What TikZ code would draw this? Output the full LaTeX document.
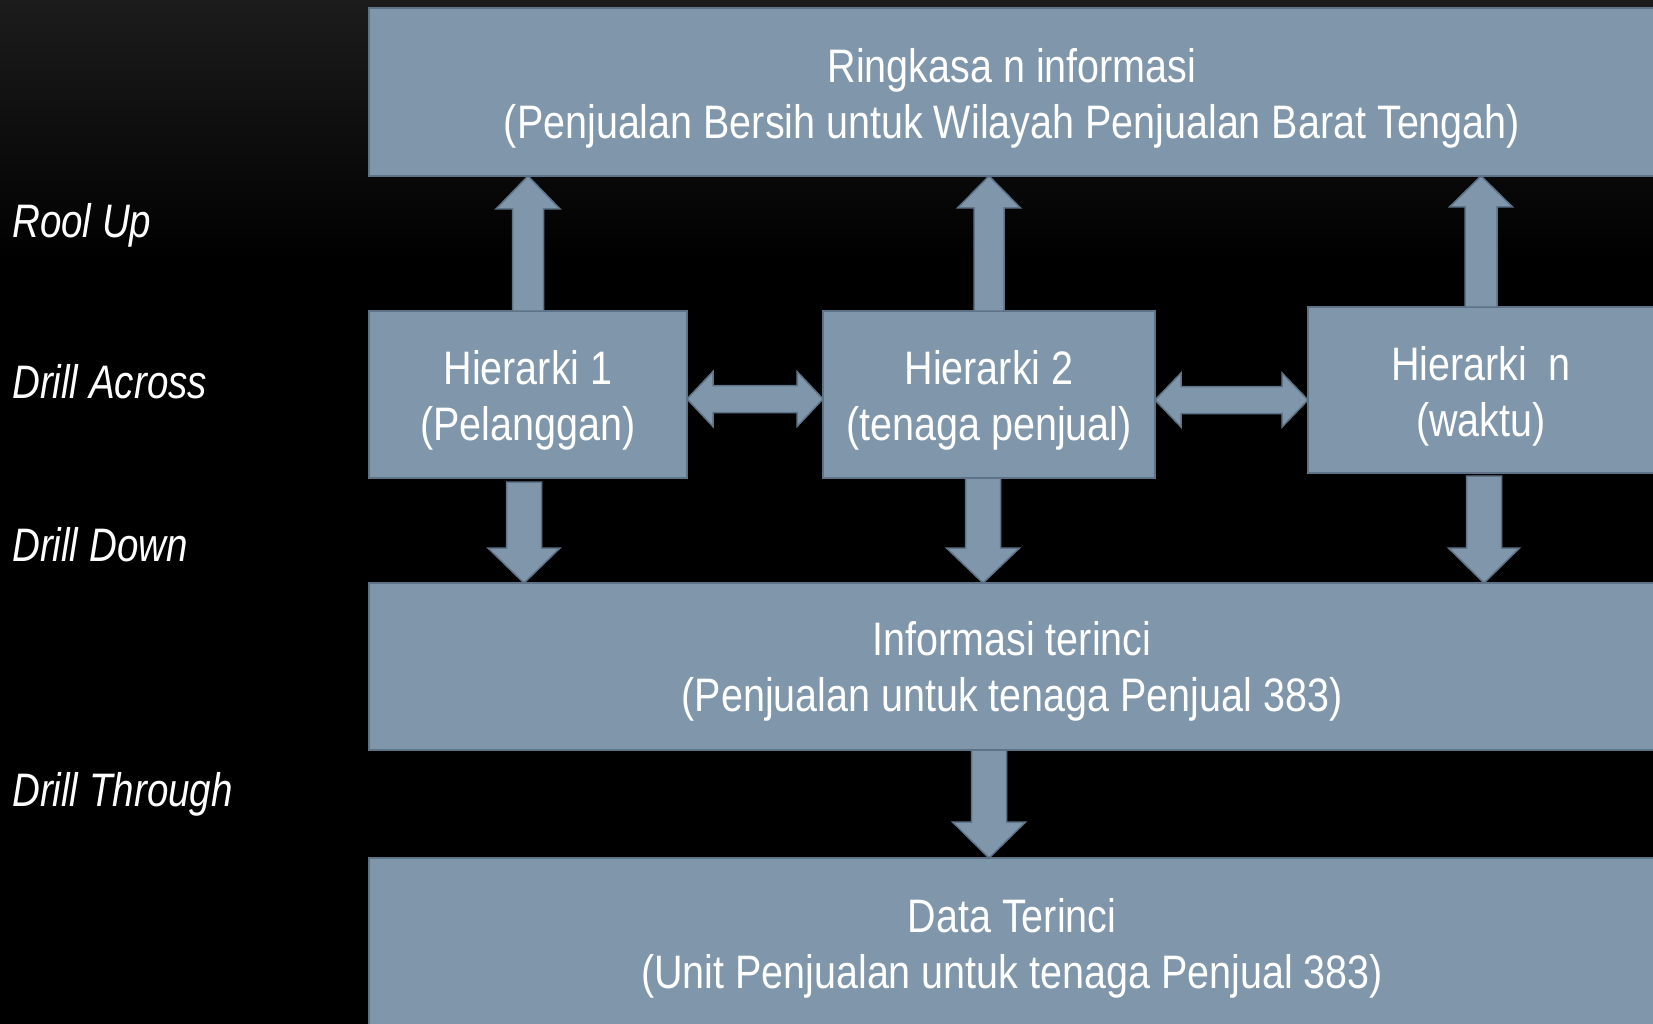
\documentclass[tikz,border=0pt]{standalone}
\usepackage{fontspec}
\setmainfont{Liberation Sans}[FakeStretch=0.84]
\newfontfamily\oplabelfont{Liberation Sans}[FakeStretch=0.82]
\usetikzlibrary{calc}

\definecolor{boxfill}{HTML}{7F96AB}
\definecolor{boxline}{HTML}{5E7388}
\definecolor{bgtop}{HTML}{1C1C1C}

\tikzset{
  panel/.style={draw=boxline, fill=boxfill, line width=1.5pt, inner sep=0pt, outer sep=0pt},
  paneltext/.style={text=white, align=center, inner sep=0pt, font=\fontsize{47}{56}\selectfont},
  blockarr/.style={draw=boxline, fill=boxfill, line width=1.5pt, line join=miter},
  oplabel/.style={anchor=base west, text=white, inner sep=0pt, font=\oplabelfont\fontsize{47}{56}\selectfont\itshape}
}

% vertical block arrow: #1 tail, #2 tip (gives the x), #3 shaft half-width,
% #4 head half-width, #5 head length (positive points up, negative points down)
\newcommand\varrow[5]{%
  \path[blockarr] let \p1=(#1), \p2=(#2) in
    ({\x2-#3},{\y1}) -- ({\x2-#3},{\y2-(#5)}) -- ({\x2-#4},{\y2-(#5)}) -- ({\x2},{\y2})
    -- ({\x2+#4},{\y2-(#5)}) -- ({\x2+#3},{\y2-(#5)}) -- ({\x2+#3},{\y1}) -- cycle;}

% horizontal double block arrow: #1 left tip, #2 right tip (gives the y),
% #3 shaft half-width, #4 head half-width, #5 head length
\newcommand\harrow[5]{%
  \path[blockarr] let \p1=(#1), \p2=(#2) in
    ({\x1},{\y2}) -- ({\x1+#5},{\y2+#4}) -- ({\x1+#5},{\y2+#3}) -- ({\x2-#5},{\y2+#3})
    -- ({\x2-#5},{\y2+#4}) -- ({\x2},{\y2}) -- ({\x2-#5},{\y2-#4}) -- ({\x2-#5},{\y2-#3})
    -- ({\x1+#5},{\y2-#3}) -- ({\x1+#5},{\y2-#4}) -- cycle;}

\begin{document}
\begin{tikzpicture}[x=1pt, y=-1pt]
  \useasboundingbox (0,0) rectangle (1653,1024);
  \clip (0,0) rectangle (1653,1024);

  % backdrop
  \fill[black] (0,0) rectangle (1653,1024);
  \shade[top color=bgtop, bottom color=black] (0,0) rectangle (1653,260);

  % panels
  \node[panel, minimum width=1286pt, minimum height=168pt] (top) at (1012,92) {};
  \node[panel, minimum width=318pt, minimum height=167pt] (h1) at (528,394.5) {};
  \node[panel, minimum width=332pt, minimum height=167pt] (h2) at (989,394.5) {};
  \node[panel, minimum width=346pt, minimum height=166pt] (hn) at (1481,390) {};
  \node[panel, minimum width=1286pt, minimum height=167pt] (mid) at (1012,666.5) {};
  \node[panel, minimum width=1286pt, minimum height=170pt] (bot) at (1012,943) {};

  % panel captions
  \node[paneltext] (toptxt) at ([yshift=-6pt]top.center)
    {Ringkasa n informasi\\(Penjualan Bersih untuk Wilayah Penjualan Barat Tengah)};
  \node[paneltext] (h1txt) at ([yshift=-6pt]h1.center) {Hierarki 1\\(Pelanggan)};
  \node[paneltext] (h2txt) at ([yshift=-6pt]h2.center) {Hierarki 2\\(tenaga penjual)};
  \node[paneltext] (hntxt) at ([yshift=-6pt]hn.center) {Hierarki\ \ n\\(waktu)};
  \node[paneltext] (midtxt) at ([yshift=-5pt]mid.center)
    {Informasi terinci\\(Penjualan untuk tenaga Penjual 383)};
  \node[paneltext] (bottxt) at ([yshift=-5pt]bot.center)
    {Data Terinci\\(Unit Penjualan untuk tenaga Penjual 383)};

  % roll up
  \varrow{h1.north}{top.south -| h1.north}{15.5pt}{32pt}{33pt}
  \varrow{h2.north -| 989,0}{top.south -| 989,0}{15pt}{31.5pt}{32pt}
  \varrow{hn.north -| 1481,0}{top.south -| 1481,0}{16pt}{31.5pt}{31pt}

  % drill across
  \harrow{h1.east |- 0,399}{h2.west |- 0,399}{13.5pt}{27.5pt}{26pt}
  \harrow{h2.east |- 0,400}{hn.west |- 0,400}{13.5pt}{27pt}{26pt}

  % drill down
  \varrow{$(h1.south -| 524,0)+(0,4)$}{mid.north -| 524,0}{17.5pt}{36pt}{-35pt}
  \varrow{h2.south -| 983,0}{mid.north -| 983,0}{17.5pt}{36.5pt}{-35pt}
  \varrow{$(hn.south -| 1484,0)+(0,3)$}{mid.north -| 1484,0}{17.5pt}{35.5pt}{-35pt}

  % drill through
  \varrow{mid.south -| 989,0}{bot.north -| 989,0}{17.5pt}{36.5pt}{-36pt}

  % operation names
  \node[oplabel] (rollup) at (12,237) {Rool Up};
  \node[oplabel] (across) at (12,398) {Drill Across};
  \node[oplabel] (down) at (12,561) {Drill Down};
  \node[oplabel] (through) at (12,806) {Drill Through};
\end{tikzpicture}
\end{document}
